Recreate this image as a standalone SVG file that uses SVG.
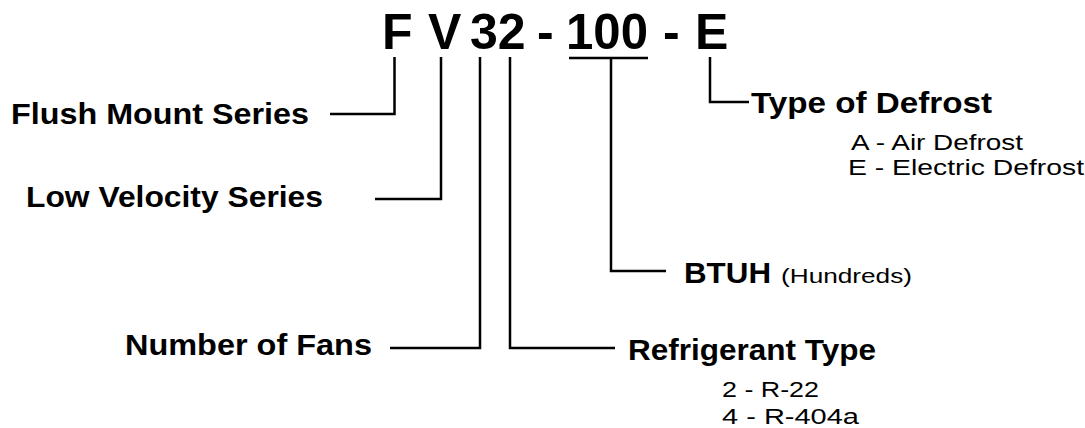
<svg xmlns="http://www.w3.org/2000/svg" width="1085" height="428" viewBox="0 0 1085 428">
<style>
.code{font-family:"Liberation Sans",Arial,sans-serif;font-weight:bold;font-size:50px;fill:#000}
.lbl{font-family:"Liberation Sans",Arial,sans-serif;font-weight:bold;font-size:29px;fill:#000}
.sub{font-family:"Liberation Sans",Arial,sans-serif;font-size:22px;fill:#000}
.sm{font-family:"Liberation Sans",Arial,sans-serif;font-size:20px;fill:#000}
.ln{fill:none;stroke:#000;stroke-width:2.5}
</style>
<rect width="1085" height="428" fill="#fff"/>
<g id="code">
<text class="code" x="382" y="49">F</text>
<text class="code" x="428" y="49">V</text>
<text class="code" x="470" y="49">32</text>
<text class="code" x="537" y="49">-</text>
<text class="code" x="566" y="49" textLength="82" lengthAdjust="spacingAndGlyphs">100</text>
<text class="code" x="663" y="49">-</text>
<text class="code" x="695" y="49">E</text>
</g>
<g id="connectors">
<line class="ln" x1="569" y1="58" x2="648" y2="58" stroke-width="3"/>
<polyline class="ln" points="394.5,57 394.5,114 330,114"/>
<polyline class="ln" points="441,57 441,199 375,199"/>
<polyline class="ln" points="480,57 480,348 390,348"/>
<polyline class="ln" points="510,57 510,348 615,348"/>
<polyline class="ln" points="611,58 611,271 666,271"/>
<polyline class="ln" points="710,57 710,102 749,102"/>
</g>
<g id="flush">
<text class="lbl" x="11" y="124" textLength="298" lengthAdjust="spacingAndGlyphs">Flush Mount Series</text>
</g>
<g id="low">
<text class="lbl" x="26" y="207" textLength="297" lengthAdjust="spacingAndGlyphs">Low Velocity Series</text>
</g>
<g id="fans">
<text class="lbl" x="125" y="355" textLength="247" lengthAdjust="spacingAndGlyphs">Number of Fans</text>
</g>
<g id="refrigerant">
<text class="lbl" x="628" y="360" textLength="248" lengthAdjust="spacingAndGlyphs">Refrigerant Type</text>
<text class="sub" x="722" y="397" textLength="97" lengthAdjust="spacingAndGlyphs">2 - R-22</text>
<text class="sub" x="722" y="424" textLength="137" lengthAdjust="spacingAndGlyphs">4 - R-404a</text>
</g>
<g id="btuh">
<text class="lbl" x="684" y="283" textLength="87" lengthAdjust="spacingAndGlyphs">BTUH</text>
<text class="sm" x="781" y="283" textLength="131" lengthAdjust="spacingAndGlyphs">(Hundreds)</text>
</g>
<g id="defrost">
<text class="lbl" x="751" y="113" textLength="241" lengthAdjust="spacingAndGlyphs">Type of Defrost</text>
<text class="sub" x="851" y="150" textLength="172" lengthAdjust="spacingAndGlyphs">A - Air Defrost</text>
<text class="sub" x="848" y="175" textLength="236" lengthAdjust="spacingAndGlyphs">E - Electric Defrost</text>
</g>
</svg>
